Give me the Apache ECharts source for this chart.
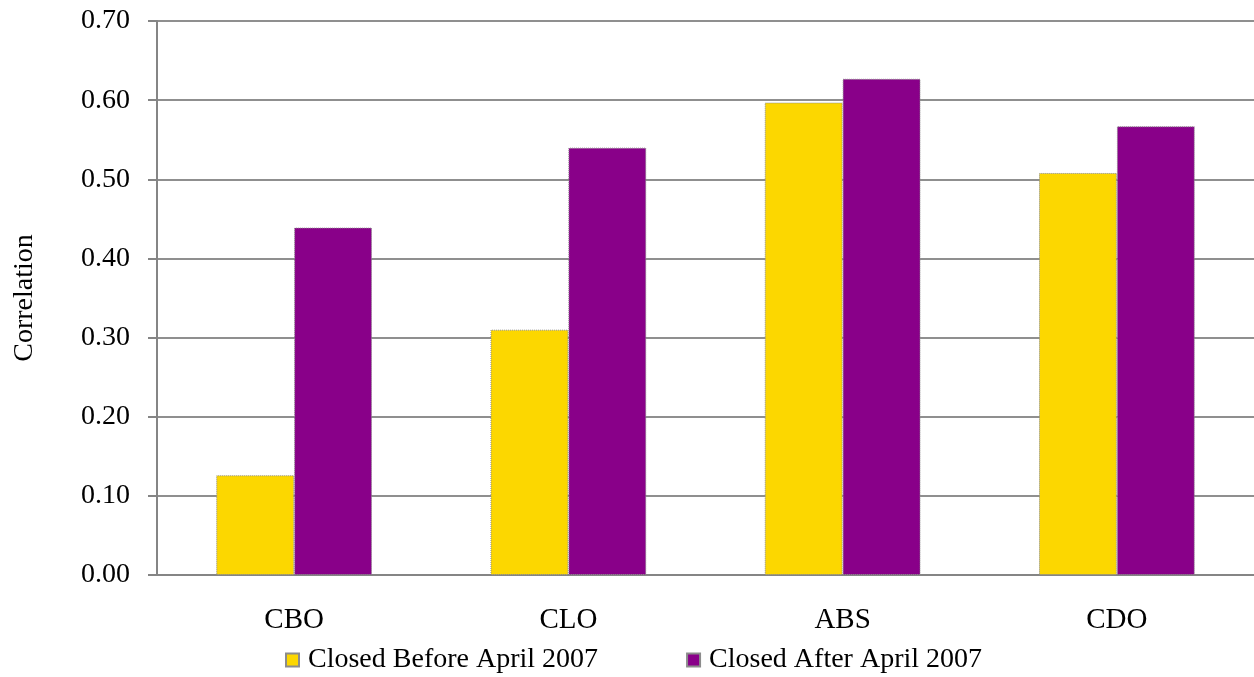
<!DOCTYPE html>
<html>
<head>
<meta charset="utf-8">
<script src="https://cdn.jsdelivr.net/npm/echarts@6/dist/echarts.min.js"></script>
<style>
  html, body { margin: 0; padding: 0; background: #fff; }
  #chart { width: 1254px; height: 677px; }
</style>
</head>
<body>
<div id="chart"></div>
<script>
var categories = ['CBO', 'CLO', 'ABS', 'CDO'];
var beforeValues = [0.126, 0.31, 0.597, 0.508];
var afterValues = [0.439, 0.54, 0.627, 0.567];
var seriesNames = ['Closed Before April 2007', 'Closed After April 2007'];

var fontFam = '"Liberation Serif", "DejaVu Serif", serif';

function barSeries(name, data, color) {
    return {
        name: name,
        type: 'bar',
        data: data,
        barWidth: '28.4%',
        barGap: '0%',
        itemStyle: {
            color: color,
            borderColor: '#8c8c8c',
            borderWidth: 1,
            borderType: 'dotted'
        }
    };
}

var myChart = echarts.init(document.getElementById('chart'));
var option = {
    animation: false,
    textStyle: { fontFamily: fontFam },
    grid: { left: 157, right: 0, top: 21, bottom: 102 },
    legend: {
        data: seriesNames,
        icon: 'rect',
        top: 646,
        left: 285,
        padding: 0,
        itemWidth: 13,
        itemHeight: 13,
        itemGap: 88,
        textStyle: { fontFamily: fontFam, fontSize: 28, color: '#000', padding: [0, 0, 0, 4] }
    },
    xAxis: {
        type: 'category',
        data: categories,
        axisLine: { lineStyle: { color: '#858585', width: 2 } },
        axisTick: { length: 8, lineStyle: { color: '#858585', width: 2 } },
        axisLabel: { fontFamily: fontFam, fontSize: 29, color: '#000', margin: 31 }
    },
    yAxis: {
        type: 'value',
        min: 0,
        max: 0.7,
        interval: 0.1,
        name: 'Correlation',
        nameLocation: 'middle',
        nameGap: 118,
        nameRotate: 90,
        nameTextStyle: { fontFamily: fontFam, fontSize: 28, color: '#000' },
        axisLine: { show: true, lineStyle: { color: '#858585', width: 2 } },
        axisTick: { show: true, length: 9, lineStyle: { color: '#858585', width: 2 } },
        splitLine: { lineStyle: { color: '#8f8f8f', width: 2 } },
        axisLabel: {
            fontFamily: fontFam, fontSize: 28, color: '#000', margin: 27,
            formatter: function (v) { return v.toFixed(2); }
        }
    },
    series: [
        barSeries(seriesNames[0], beforeValues, '#fcd700'),
        barSeries(seriesNames[1], afterValues, '#890089')
    ]
};
myChart.setOption(option);
</script>
</body>
</html>
